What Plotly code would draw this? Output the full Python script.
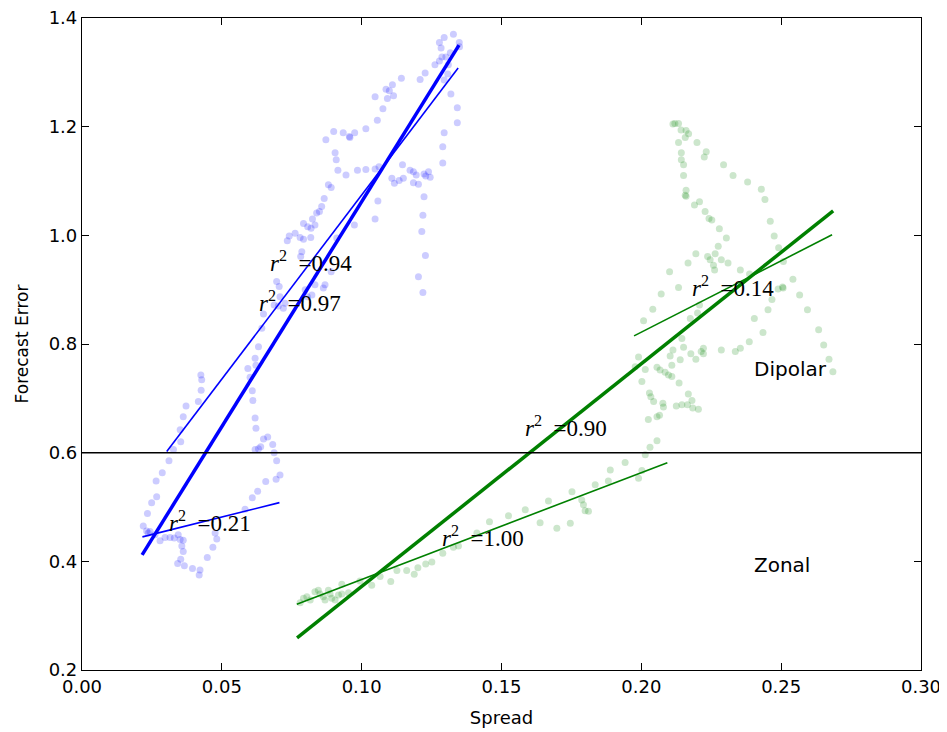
import plotly.graph_objects as go

# ---- Blue scatter: spread vs forecast error ----
blue_spread = [0.1328, 0.1295, 0.1278, 0.1349, 0.1284, 0.1350, 0.1317, 0.1287, 0.1301, 0.1278,
               0.1262, 0.1310, 0.1227, 0.1209, 0.1142, 0.1308, 0.1295, 0.1110, 0.1087, 0.1099,
               0.1114, 0.1048, 0.1092, 0.1319, 0.1076, 0.1342, 0.1056, 0.1342, 0.1015, 0.0975,
               0.0934, 0.0956, 0.0958, 0.0900, 0.0872, 0.1295, 0.1290, 0.0905, 0.0909, 0.1290,
               0.0915, 0.0985, 0.1015, 0.1048, 0.1062, 0.1146, 0.1173, 0.1185, 0.1239, 0.1223,
               0.0944, 0.1195, 0.1108, 0.1117, 0.1134, 0.1149, 0.1185, 0.1203, 0.1229, 0.1245,
               0.0881, 0.0891, 0.0866, 0.1058, 0.0857, 0.0839, 0.0849, 0.0824, 0.1048, 0.1223,
               0.1219, 0.0792, 0.0807, 0.0819, 0.0833, 0.0974, 0.1215, 0.0762, 0.0741, 0.0734,
               0.0780, 0.0792, 0.0818, 0.0786, 0.0782, 0.1228, 0.0891, 0.1203, 0.0696, 0.0705,
               0.0833, 0.0869, 0.0863, 0.1219, 0.0798, 0.0806, 0.0822, 0.0708, 0.0726, 0.0687,
               0.0702, 0.0720, 0.0649, 0.0643, 0.0631, 0.0619, 0.0622, 0.0593, 0.0601, 0.0609,
               0.0611, 0.0619, 0.0622, 0.0619, 0.0631, 0.0639, 0.0649, 0.0664, 0.0682, 0.0687,
               0.0696, 0.0708, 0.0694, 0.0657, 0.0628, 0.0609, 0.0583, 0.0476, 0.0482, 0.0468,
               0.0448, 0.0419, 0.0422, 0.0395, 0.0366, 0.0342, 0.0353, 0.0362, 0.0357, 0.0362,
               0.0351, 0.0344, 0.0330, 0.0315, 0.0297, 0.0279, 0.0261, 0.0237, 0.0243, 0.0231,
               0.0219, 0.0234, 0.0249, 0.0267, 0.0265, 0.0287, 0.0311, 0.0327, 0.0353, 0.0351,
               0.0362, 0.0372, 0.0416, 0.0426, 0.0425, 0.0428, 0.0911]
blue_error = [1.370, 1.364, 1.355, 1.355, 1.345, 1.347, 1.336, 1.328, 1.328, 1.321,
              1.314, 1.314, 1.299, 1.287, 1.289, 1.297, 1.286, 1.277, 1.269, 1.266,
              1.257, 1.255, 1.252, 1.260, 1.233, 1.235, 1.212, 1.207, 1.196, 1.189,
              1.189, 1.182, 1.180, 1.191, 1.176, 1.189, 1.163, 1.152, 1.139, 1.133,
              1.120, 1.120, 1.121, 1.122, 1.126, 1.130, 1.120, 1.117, 1.117, 1.113,
              1.111, 1.111, 1.105, 1.096, 1.101, 1.105, 1.097, 1.094, 1.109, 1.107,
              1.093, 1.088, 1.068, 1.063, 1.053, 1.041, 1.044, 1.030, 1.030, 1.071,
              1.037, 1.022, 1.016, 1.013, 1.019, 1.019, 1.007, 1.004, 0.999, 0.990,
              0.996, 0.993, 0.996, 0.970, 0.961, 0.963, 0.933, 0.924, 0.915, 0.906,
              0.909, 0.909, 0.903, 0.895, 0.900, 0.887, 0.890, 0.887, 0.875, 0.872,
              0.870, 0.866, 0.855, 0.829, 0.795, 0.774, 0.761, 0.755, 0.739, 0.714,
              0.696, 0.664, 0.645, 0.606, 0.607, 0.611, 0.625, 0.629, 0.615, 0.600,
              0.585, 0.559, 0.551, 0.547, 0.529, 0.517, 0.496, 0.452, 0.441, 0.426,
              0.407, 0.375, 0.384, 0.387, 0.392, 0.396, 0.404, 0.418, 0.428, 0.439,
              0.440, 0.449, 0.443, 0.444, 0.444, 0.438, 0.449, 0.452, 0.455, 0.456,
              0.465, 0.488, 0.508, 0.519, 0.548, 0.563, 0.585, 0.606, 0.620, 0.642,
              0.666, 0.686, 0.694, 0.715, 0.743, 0.734, 0.995]

# ---- Green scatter ----
green_spread = [0.0780, 0.0792, 0.0804, 0.0816, 0.0833, 0.0845, 0.0851, 0.0863, 0.0869, 0.0881,
                0.0887, 0.0893, 0.0905, 0.0917, 0.0929, 0.0953, 0.0929, 0.0994, 0.1036, 0.1066,
                0.1104, 0.1126, 0.1161, 0.1188, 0.1201, 0.1229, 0.1251, 0.1290, 0.1328, 0.1346,
                0.1412, 0.1457, 0.1525, 0.1585, 0.1638, 0.1698, 0.1746, 0.1668, 0.1752, 0.1787,
                0.1793, 0.1799, 0.1811, 0.1835, 0.1882, 0.1889, 0.1942, 0.1990, 0.2002, 0.2014,
                0.2031, 0.2056,
                0.2195, 0.2237, 0.2264, 0.2246, 0.2258, 0.2262, 0.2286, 0.2310, 0.2167, 0.2101,
                0.2354, 0.2387, 0.2133, 0.2071, 0.2505, 0.2507, 0.2542, 0.2489, 0.2566, 0.2467,
                0.2594, 0.2453, 0.2404, 0.2041, 0.2008, 0.2175, 0.2201, 0.2208, 0.2634, 0.2435,
                0.2386, 0.2652, 0.2671, 0.2685, 0.2354, 0.2336, 0.2286, 0.2222, 0.2214, 0.2222,
                0.2177, 0.2195, 0.2151, 0.2145, 0.2113, 0.2103, 0.2109, 0.2139, 0.1990, 0.1978,
                0.2014, 0.2056, 0.2067, 0.2085, 0.2097, 0.2109, 0.2002, 0.2135, 0.2029, 0.2034,
                0.2044, 0.2077, 0.2079, 0.2065, 0.2056, 0.2025, 0.2125, 0.2145, 0.2165, 0.2181,
                0.2184, 0.2204, 0.2168,
                0.2113, 0.2120, 0.2133, 0.2142, 0.2160, 0.2169, 0.2157, 0.2133, 0.2199, 0.2143,
                0.2232, 0.2225, 0.2143, 0.2151, 0.2294, 0.2328, 0.2380, 0.2429, 0.2442, 0.2151,
                0.2160, 0.2157, 0.2160, 0.2208, 0.2190, 0.2228, 0.2242, 0.2252, 0.2279, 0.2461,
                0.2475, 0.2491, 0.2508, 0.2304, 0.2275]
green_error = [0.324, 0.332, 0.335, 0.329, 0.344, 0.347, 0.340, 0.335, 0.329, 0.347,
               0.340, 0.332, 0.329, 0.338, 0.340, 0.342, 0.358, 0.364, 0.356, 0.372,
               0.363, 0.383, 0.383, 0.376, 0.388, 0.395, 0.399, 0.415, 0.426, 0.428,
               0.452, 0.473, 0.484, 0.495, 0.471, 0.461, 0.470, 0.511, 0.528, 0.513,
               0.504, 0.493, 0.492, 0.541, 0.548, 0.568, 0.582, 0.553, 0.567, 0.596,
               0.610, 0.622,
               0.966, 0.961, 0.966, 0.955, 0.945, 0.936, 0.955, 0.949, 0.949, 0.933,
               0.936, 0.929, 0.904, 0.892, 0.905, 0.903, 0.919, 0.901, 0.890, 0.882,
               0.863, 0.863, 0.847, 0.864, 0.843, 0.847, 0.857, 0.872, 0.826, 0.821,
               0.804, 0.798, 0.772, 0.749, 0.792, 0.786, 0.789, 0.792, 0.786, 0.782,
               0.782, 0.772, 0.794, 0.810, 0.789, 0.778, 0.761, 0.771, 0.776, 0.758,
               0.753, 0.757, 0.752, 0.748, 0.743, 0.740, 0.731, 0.728, 0.710, 0.703,
               0.694, 0.691, 0.684, 0.669, 0.666, 0.661, 0.686, 0.688, 0.688, 0.696,
               0.682, 0.680, 0.708,
               1.205, 1.206, 1.206, 1.194, 1.193, 1.187, 1.180, 1.171, 1.171, 1.152,
               1.154, 1.144, 1.139, 1.130, 1.130, 1.110, 1.098, 1.085, 1.066, 1.110,
               1.083, 1.074, 1.072, 1.062, 1.056, 1.044, 1.031, 1.028, 1.012, 1.026,
               0.999, 0.977, 0.952, 0.995, 0.980]

# ---- Regression lines (end points) ----
blue_all_x, blue_all_y = [0.0215, 0.1348], [0.412, 1.350]
blue_hi_x, blue_hi_y = [0.0303, 0.1345], [0.602, 1.308]
blue_lo_x, blue_lo_y = [0.0216, 0.0706], [0.445, 0.508]
green_all_x, green_all_y = [0.0769, 0.2686], [0.259, 1.045]
green_hi_x, green_hi_y = [0.1974, 0.2682], [0.815, 1.001]
green_lo_x, green_lo_y = [0.0768, 0.2093], [0.321, 0.5815]

threshold = 0.6

# ---- r^2 labels ----
r2_values = ["0.94", "0.97", "0.21", "0.90", "0.14", "1.00"]
r2_x = [0.0819, 0.0778, 0.0458, 0.1731, 0.2329, 0.1434]
r2_y = [0.951, 0.878, 0.473, 0.649, 0.905, 0.445]

region_labels = ["Dipolar", "Zonal"]
region_x = [0.2395, 0.2395]
region_y = [0.754, 0.393]

BLUE = "#0000ff"
GREEN = "#008000"
SANS = "DejaVu Sans, sans-serif"

fig = go.Figure()

fig.add_trace(go.Scatter(x=blue_spread, y=blue_error, mode="markers",
                         marker=dict(size=7, color=BLUE, opacity=0.2, line=dict(width=0)),
                         showlegend=False, hoverinfo="skip"))
fig.add_trace(go.Scatter(x=green_spread, y=green_error, mode="markers",
                         marker=dict(size=7, color=GREEN, opacity=0.2, line=dict(width=0)),
                         showlegend=False, hoverinfo="skip"))

for xs, ys, c, w in [(blue_all_x, blue_all_y, BLUE, 3.5),
                     (blue_hi_x, blue_hi_y, BLUE, 1.6),
                     (blue_lo_x, blue_lo_y, BLUE, 1.6),
                     (green_all_x, green_all_y, GREEN, 3.5),
                     (green_hi_x, green_hi_y, GREEN, 1.6),
                     (green_lo_x, green_lo_y, GREEN, 1.6)]:
    fig.add_trace(go.Scatter(x=xs, y=ys, mode="lines", line=dict(color=c, width=w),
                             showlegend=False, hoverinfo="skip"))

fig.add_hline(y=threshold, line=dict(color="black", width=1.5))

for v, x, y in zip(r2_values, r2_x, r2_y):
    fig.add_annotation(x=x, y=y, text="<i>r</i><sup>2</sup>  =" + v, showarrow=False,
                       xanchor="center", yanchor="middle",
                       font=dict(family="Liberation Serif, serif", size=23, color="black"))

for t, x, y in zip(region_labels, region_x, region_y):
    fig.add_annotation(x=x, y=y, text=t, showarrow=False, xanchor="left", yanchor="middle",
                       font=dict(family=SANS, size=20, color="black"))

axis_common = dict(showline=True, linecolor="black", linewidth=1.2, mirror="ticks",
                   ticks="inside", ticklen=7, tickwidth=1, tickcolor="black",
                   showgrid=False, zeroline=False, automargin=False,
                   ticklabeloverflow="allow",
                   tickfont=dict(family=SANS, size=18, color="black"))

fig.update_xaxes(range=[0, 0.30], dtick=0.05, tick0=0, tickformat=".2f",
                 title=dict(text="Spread", font=dict(family=SANS, size=18, color="black")),
                 **axis_common)
fig.update_yaxes(range=[0.2, 1.4], dtick=0.2, tick0=0.2, tickformat=".1f",
                 title=dict(text="Forecast Error", font=dict(family=SANS, size=17, color="black")),
                 **axis_common)

# the page body adds an 8px offset, so the figure is sized/margined to compensate
fig.update_layout(width=939, height=724, plot_bgcolor="white", paper_bgcolor="white",
                  margin=dict(l=74, r=26, t=10, b=62), showlegend=False)

fig.write_html("out.html")
